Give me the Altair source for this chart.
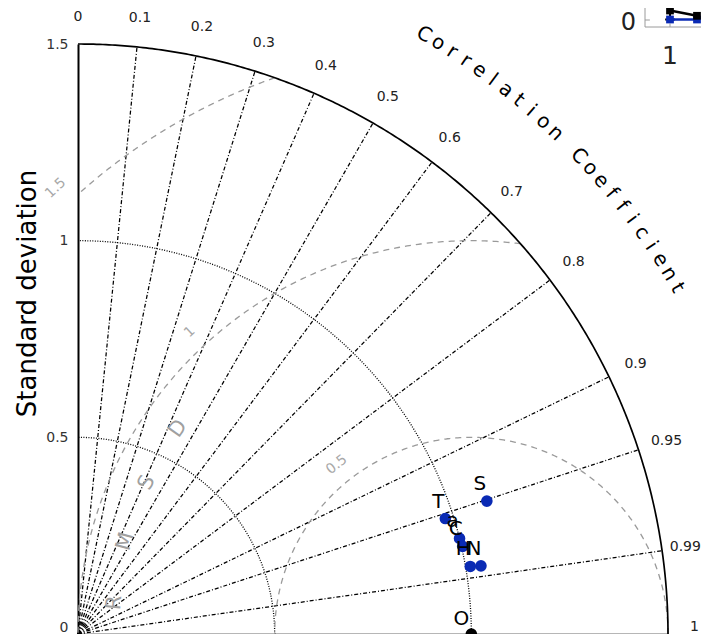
import numpy as np
import pandas as pd
import altair as alt

# ---------------- data ----------------
model_names = ["S", "T", "a", "C", "H", "N"]
model_std = [1.093, 0.979, 1.000, 1.003, 1.012, 1.039]
model_corr = [0.951, 0.954, 0.970, 0.975, 0.9855, 0.986]
ref_names = ["O"]
ref_std = [1.0]
ref_corr = [1.0]

corr_lines = [0.1, 0.2, 0.3, 0.4, 0.5, 0.6, 0.7, 0.8, 0.9, 0.95, 0.99]
corr_tick_values = [0, 0.1, 0.2, 0.3, 0.4, 0.5, 0.6, 0.7, 0.8, 0.9, 0.95, 0.99, 1]
corr_tick_text = ["0", "0.1", "0.2", "0.3", "0.4", "0.5", "0.6", "0.7", "0.8", "0.9", "0.95", "0.99", "1"]
corr_tick_nudge_x = [0, 0, 0, 0, 0, 0, 0, 0, 0, 0, 0, -6, -3]
corr_tick_nudge_y = [-2, 0, 0, 0, 0, 0, 0, 0, 0, 0, 0, 0, 7]
std_ticks = [0, 0.5, 1, 1.5]
std_arcs = [0.5, 1.0]
std_max = 1.5
rmsd_levels = [0.5, 1.0, 1.5]
rmsd_text = ["0.5", "1", "1.5"]
rmsd_label_dir = [128.5, 133.0, 133.0]
corr_title = "Correlation Coefficient"
rmsd_title = ["R", "M", "S", "D"]
rmsd_title_dir = [175.0, 165.0, 155.0, 145.0]

# fragment of a neighbouring panel (top-right corner)
inset_x = [1, 2]
inset_black = [0.95, 0.42]
inset_blue = [0.05, 0.05]
inset_err_lo = [0.05]
inset_err_hi = [1.6]

FONT = "DejaVu Sans"
W = 590
H = 590

# ---------------- geometry helpers ----------------
rows = []
for i, c in enumerate(corr_lines):
    s = np.sqrt(1 - c * c)
    rows.append({"x": 0.0, "y": 0.0, "g": i, "o": 0})
    rows.append({"x": std_max * c, "y": std_max * s, "g": i, "o": 1})
radial = pd.DataFrame(rows)

th = np.linspace(0, np.pi / 2, 300)
arcs = pd.concat([pd.DataFrame({"x": r * np.cos(th), "y": r * np.sin(th), "g": k, "o": np.arange(len(th))})
                  for k, r in enumerate(std_arcs)])
outer = pd.DataFrame({"x": std_max * np.cos(th), "y": std_max * np.sin(th), "g": 0, "o": np.arange(len(th))})

rm = []
for k, R in enumerate(rmsd_levels):
    xi = (std_max ** 2 - R ** 2 + 1.0) / 2.0
    tmin = np.arccos(np.clip((xi - 1.0) / R, -1, 1))
    tmax = np.arccos(max(-1.0 / R, -1.0))
    t = np.linspace(tmin, tmax, 300)
    rm.append(pd.DataFrame({"x": 1 + R * np.cos(t), "y": R * np.sin(t), "g": k, "o": np.arange(len(t))}))
rmsd = pd.concat(rm)

rl = []
for R, txt, d in zip(rmsd_levels, rmsd_text, rmsd_label_dir):
    a = np.radians(d)
    rr = R + 0.05
    rl.append({"x": 1 + rr * np.cos(a), "y": rr * np.sin(a), "t": txt, "ang": (90 - d) % 360})
rmsd_lab = pd.DataFrame(rl)

rt = []
for ch, d in zip(rmsd_title, rmsd_title_dir):
    a = np.radians(d)
    rt.append({"x": 1 + 0.91 * np.cos(a), "y": 0.91 * np.sin(a), "t": ch, "ang": (90 - d) % 360})
rmsd_tit = pd.DataFrame(rt)

cl = []
px_per_unit = W / std_max
for v, txt, nx, ny in zip(corr_tick_values, corr_tick_text, corr_tick_nudge_x, corr_tick_nudge_y):
    r = 1.575
    cl.append({"x": r * v + nx / px_per_unit,
               "y": r * np.sqrt(max(0.0, 1 - v * v)) + ny / px_per_unit, "t": txt})
corr_lab = pd.DataFrame(cl)

ct = []
n = len(corr_title)
for i, ch in enumerate(corr_title):
    phi = 60.0 - i * 30.0 / (n - 1)
    a = np.radians(phi)
    ct.append({"x": 1.76 * np.cos(a), "y": 1.76 * np.sin(a), "t": ch, "ang": 90 - phi})
corr_tit = pd.DataFrame(ct)

models = pd.DataFrame({"name": model_names, "std": model_std, "corr": model_corr})
refs = pd.DataFrame({"name": ref_names, "std": ref_std, "corr": ref_corr})

# ---------------- encodings ----------------
xaxis = alt.Axis(labels=False, ticks=False, grid=False, title="", domainColor="#6e6e6e", domainWidth=2)
yaxis = alt.Axis(values=std_ticks, format="~g", grid=False, ticks=False,
                 title="Standard deviation", titleFont=FONT, titleFontSize=26, titleFontWeight="normal",
                 titleColor="black", titleX=-43, titleY=249, titleAngle=270, titleAlign="center",
                 titleBaseline="alphabetic",
                 labelFont=FONT, labelFontSize=14, labelColor="#333333", labelPadding=10,
                 labelBaseline={"condition": {"test": "datum.value == 0", "value": "bottom"}, "value": "middle"},
                 domainColor="black", domainWidth=2)
sc = alt.Scale(domain=[0, std_max], nice=False, zero=False)
X = alt.X("x:Q", scale=sc, axis=xaxis)
Y = alt.Y("y:Q", scale=sc, axis=yaxis)

radial_l = alt.Chart(radial).mark_line(color="black", strokeWidth=1.25, strokeDash=[4, 2, 1, 2]).encode(
    x=X, y=Y, detail="g:N", order="o:Q")
arcs_l = alt.Chart(arcs).mark_line(color="black", strokeWidth=1.3, strokeDash=[1, 1.5]).encode(
    x=X, y=Y, detail="g:N", order="o:Q")
rmsd_l = alt.Chart(rmsd).mark_line(color="#9a9a9a", strokeWidth=1.3, strokeDash=[6, 5]).encode(
    x=X, y=Y, detail="g:N", order="o:Q")
outer_l = alt.Chart(outer).mark_line(color="black", strokeWidth=1.7).encode(x=X, y=Y, order="o:Q")

rmsd_lab_l = alt.Chart(rmsd_lab).mark_text(font=FONT, fontSize=14, color="#a8a8a8", align="center",
                                           baseline="middle").encode(
    x=X, y=Y, text="t:N", angle=alt.Angle("ang:Q", scale=None))
rmsd_tit_l = alt.Chart(rmsd_tit).mark_text(font=FONT, fontSize=21, color="#a0a0a0", align="center",
                                           baseline="middle").encode(
    x=X, y=Y, text="t:N", angle=alt.Angle("ang:Q", scale=None))
corr_lab_l = alt.Chart(corr_lab).mark_text(font=FONT, fontSize=14, color="#222222", align="center",
                                           baseline="middle").encode(x=X, y=Y, text="t:N")
corr_tit_l = alt.Chart(corr_tit).mark_text(font=FONT, fontSize=20, color="black", align="center",
                                           baseline="middle").encode(
    x=X, y=Y, text="t:N", angle=alt.Angle("ang:Q", scale=None))

calc = dict(x="datum.std * datum.corr", y="datum.std * sqrt(1 - datum.corr * datum.corr)")
pts = alt.Chart(models).transform_calculate(**calc).mark_circle(size=135, color="#0a2ab4", opacity=1).encode(
    x=X, y=Y)
pts_lab = alt.Chart(models).transform_calculate(**calc).mark_text(
    font=FONT, fontSize=20, color="black", dx=-7, dy=-17).encode(x=X, y=Y, text="name:N")
ref_pt = alt.Chart(refs).transform_calculate(**calc).mark_circle(size=135, color="black", opacity=1).encode(
    x=X, y=Y)
ref_lab = alt.Chart(refs).transform_calculate(**calc).mark_text(
    font=FONT, fontSize=20, color="black", dx=-10, dy=-15).encode(x=X, y=Y, text="name:N")

main = alt.layer(radial_l, arcs_l, rmsd_l, outer_l, rmsd_lab_l, rmsd_tit_l, corr_lab_l, corr_tit_l,
                 pts, pts_lab, ref_pt, ref_lab)

# ---------------- neighbouring panel fragment ----------------
sx = 27.0
d0 = 1 - 592 / sx
d1 = d0 + W / sx
sy = 10.0
e0 = -(H + 24) / sy
e1 = e0 + H / sy
IX = alt.X("ix:Q", scale=alt.Scale(domain=[d0, d1], nice=False, zero=False), axis=None)
IY = alt.Y("iy:Q", scale=alt.Scale(domain=[e0, e1], nice=False, zero=False), axis=None)
IX2 = alt.X2("ix2:Q")
IY2 = alt.Y2("iy2:Q")
fx = 1 - 25 / sx
fy = -0.7

frame = pd.DataFrame({"ix": [fx, fx, 4.0], "iy": [3.0, fy, fy], "o": [0, 1, 2]})
frame_l = alt.Chart(frame).mark_line(color="#9a9a9a", strokeWidth=1).encode(x=IX, y=IY, order="o:Q")
tickx = pd.DataFrame({"ix": [1.0], "iy": [fy], "iy2": [fy + 0.35]})
tickx_l = alt.Chart(tickx).mark_rule(color="#9a9a9a", strokeWidth=1).encode(x=IX, y=IY, y2=IY2)
ticky = pd.DataFrame({"ix": [fx], "ix2": [fx + 0.18], "iy": [0.0]})
ticky_l = alt.Chart(ticky).mark_rule(color="#9a9a9a", strokeWidth=1).encode(x=IX, x2=IX2, y=IY)

blue = pd.DataFrame({"ix": inset_x, "iy": inset_blue})
black = pd.DataFrame({"ix": inset_x, "iy": inset_black})
err = pd.DataFrame({"ix": inset_x[:1], "iy": inset_err_lo, "iy2": inset_err_hi})
caps = pd.DataFrame({"ix": [0.82, 0.82], "ix2": [1.18, 1.18], "iy": [inset_err_lo[0], inset_err_hi[0]]})
blue_l = alt.Chart(blue).mark_line(color="#0a2ab4", strokeWidth=2.5).encode(x=IX, y=IY)
blue_p = alt.Chart(blue).mark_square(color="#0a2ab4", size=60, opacity=1).encode(x=IX, y=IY)
black_l = alt.Chart(black).mark_line(color="black", strokeWidth=2.5).encode(x=IX, y=IY)
black_p = alt.Chart(black).mark_square(color="black", size=60, opacity=1).encode(x=IX, y=IY)
err_l = alt.Chart(err).mark_rule(color="black", strokeWidth=2).encode(x=IX, y=IY, y2=IY2)
caps_l = alt.Chart(caps).mark_rule(color="black", strokeWidth=2).encode(x=IX, x2=IX2, y=IY)
lab0 = pd.DataFrame({"ix": [fx], "iy": [0.0], "t": ["0"]})
lab0_l = alt.Chart(lab0).mark_text(font=FONT, fontSize=24, color="#222222", align="right", baseline="middle",
                                   dx=-9, dy=3).encode(x=IX, y=IY, text="t:N")
lab1 = pd.DataFrame({"ix": [1.0], "iy": [fy], "t": ["1"]})
lab1_l = alt.Chart(lab1).mark_text(font=FONT, fontSize=25, color="#222222", align="center", baseline="middle",
                                   dy=29).encode(x=IX, y=IY, text="t:N")

inset = alt.layer(frame_l, tickx_l, ticky_l, err_l, caps_l, blue_l, blue_p, black_l, black_p, lab0_l, lab1_l)

chart = alt.layer(main, inset).resolve_scale(x="independent", y="independent").properties(
    width=W, height=H,
    padding={"left": 70, "top": 36, "right": 33, "bottom": 0},
    autosize=alt.AutoSizeParams(type="none"),
).configure_view(stroke="transparent")

chart.save("out.html", embed_options={"renderer": "svg", "actions": False})
